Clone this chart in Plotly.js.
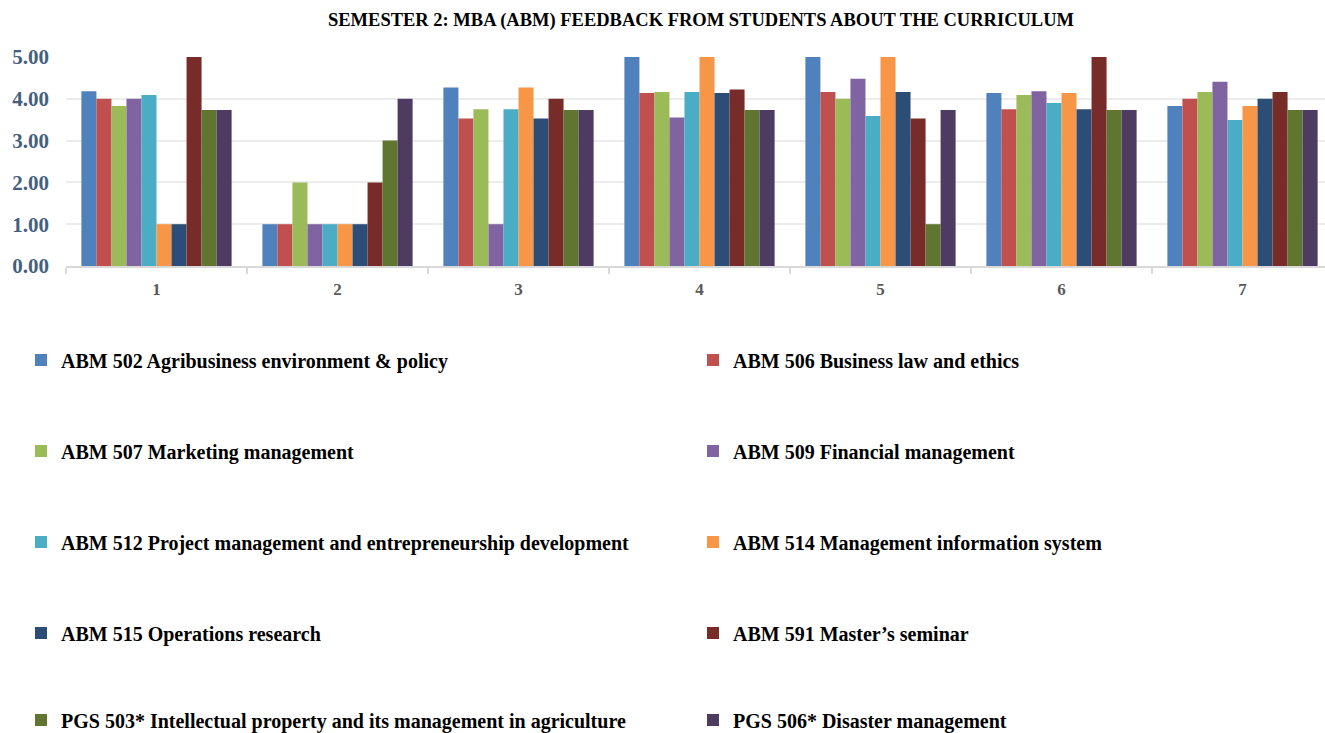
<!DOCTYPE html>
<html>
<head>
<meta charset="utf-8">
<script src="https://cdn.plot.ly/plotly-3.0.1.min.js"></script>
<style>html,body{margin:0;padding:0;background:#fff;}#chart{width:1325px;height:733px;}</style>
</head>
<body>
<div id="chart"></div>
<script>
const categories = ['1', '2', '3', '4', '5', '6', '7'];
const seriesNames = [
  'ABM 502 Agribusiness environment & policy',
  'ABM 506 Business law and ethics',
  'ABM 507 Marketing management',
  'ABM 509 Financial management',
  'ABM 512 Project management and entrepreneurship development',
  'ABM 514 Management information system',
  'ABM 515 Operations research',
  'ABM 591 Master\u2019s seminar',
  'PGS 503* Intellectual property and its management in agriculture',
  'PGS 506* Disaster management'
];
const abm502 = [4.18, 1, 4.27, 5, 5, 4.14, 3.83];
const abm506 = [4.00, 1, 3.53, 4.14, 4.16, 3.75, 4.00];
const abm507 = [3.83, 2, 3.75, 4.16, 4.00, 4.09, 4.16];
const abm509 = [4.00, 1, 1, 3.55, 4.48, 4.18, 4.41];
const abm512 = [4.09, 1, 3.75, 4.16, 3.59, 3.90, 3.49];
const abm514 = [1, 1, 4.27, 5, 5, 4.14, 3.83];
const abm515 = [1, 1, 3.53, 4.14, 4.16, 3.75, 4.00];
const abm591 = [5, 2, 4.00, 4.22, 3.53, 5, 4.16];
const pgs503 = [3.73, 3, 3.73, 3.73, 1, 3.73, 3.73];
const pgs506 = [3.73, 4, 3.73, 3.73, 3.73, 3.73, 3.73];
const seriesValues = [abm502, abm506, abm507, abm509, abm512, abm514, abm515, abm591, pgs503, pgs506];
const colors = ['#4F81BD', '#C0504D', '#9BBB59', '#8064A2', '#4BACC6', '#F79646', '#2C4D75', '#772C2A', '#5F7530', '#4D3B62'];

const legendIds = ['legend', 'legend2', 'legend3', 'legend4', 'legend5', 'legend6', 'legend7', 'legend8', 'legend9', 'legend10'];

const traces = seriesNames.map((name, i) => ({
  type: 'bar',
  name: name,
  x: categories,
  y: seriesValues[i],
  marker: {color: colors[i], line: {width: 0}},
  legend: legendIds[i],
  hoverinfo: 'x+y+name'
}));

const W = 1325, H = 733;
const plotTop = 57, plotBottom = 266, plotLeft = 66;
const plotW = W - plotLeft;
const rowPx = [360, 451, 542, 633, 720];
const colPx = [21, 693];

const serif = '"Liberation Serif", "Times New Roman", serif';
const layout = {
  width: W,
  height: H,
  margin: {l: plotLeft, r: 0, t: plotTop, b: H - plotBottom, pad: 0, autoexpand: false},
  paper_bgcolor: '#fff',
  plot_bgcolor: '#fff',
  title: {
    text: '<b>SEMESTER 2: MBA (ABM) FEEDBACK FROM STUDENTS ABOUT THE CURRICULUM</b>',
    font: {family: serif, size: 18.5, color: '#000'},
    x: 701 / W, xref: 'container', xanchor: 'center',
    y: 1 - 20 / H, yref: 'container', yanchor: 'middle'
  },
  barmode: 'group',
  bargap: 0.17,
  bargroupgap: 0,
  xaxis: {
    type: 'category',
    range: [-0.5, -0.5 + plotW / 181],
    showgrid: false,
    showline: true,
    linecolor: '#d9d9d9',
    linewidth: 2,
    ticks: 'outside',
    tickson: 'boundaries',
    ticklen: 6,
    tickcolor: '#d9d9d9',
    tickwidth: 2,
    tickfont: {family: serif, size: 17, color: '#595959', weight: 'bold'},
    ticklabelstandoff: 7,
    zeroline: false,
    fixedrange: true,
    automargin: false
  },
  yaxis: {
    range: [0, 5],
    tickvals: [0, 1, 2, 3, 4, 5],
    ticktext: ['0.00', '1.00', '2.00', '3.00', '4.00', '5.00'],
    showgrid: true,
    gridcolor: '#ececec',
    gridwidth: 1.5,
    zeroline: false,
    showline: false,
    ticks: '',
    tickfont: {family: serif, size: 21, color: '#44607f', weight: 'bold'},
    ticklabelstandoff: 16,
    fixedrange: true,
    automargin: false
  },
  showlegend: true
};

legendIds.forEach((id, i) => {
  const row = Math.floor(i / 2), col = i % 2;
  layout[id] = {
    x: colPx[col] / W,
    xref: 'container',
    xanchor: 'left',
    y: 1 - rowPx[row] / H,
    yref: 'container',
    yanchor: 'middle',
    orientation: 'h',
    bgcolor: 'rgba(0,0,0,0)',
    font: {family: serif, size: 20, color: '#000', weight: 'bold'},
    itemclick: false, itemdoubleclick: false
  };
});

Plotly.newPlot('chart', traces, layout, {displayModeBar: false});
</script>
</body>
</html>
